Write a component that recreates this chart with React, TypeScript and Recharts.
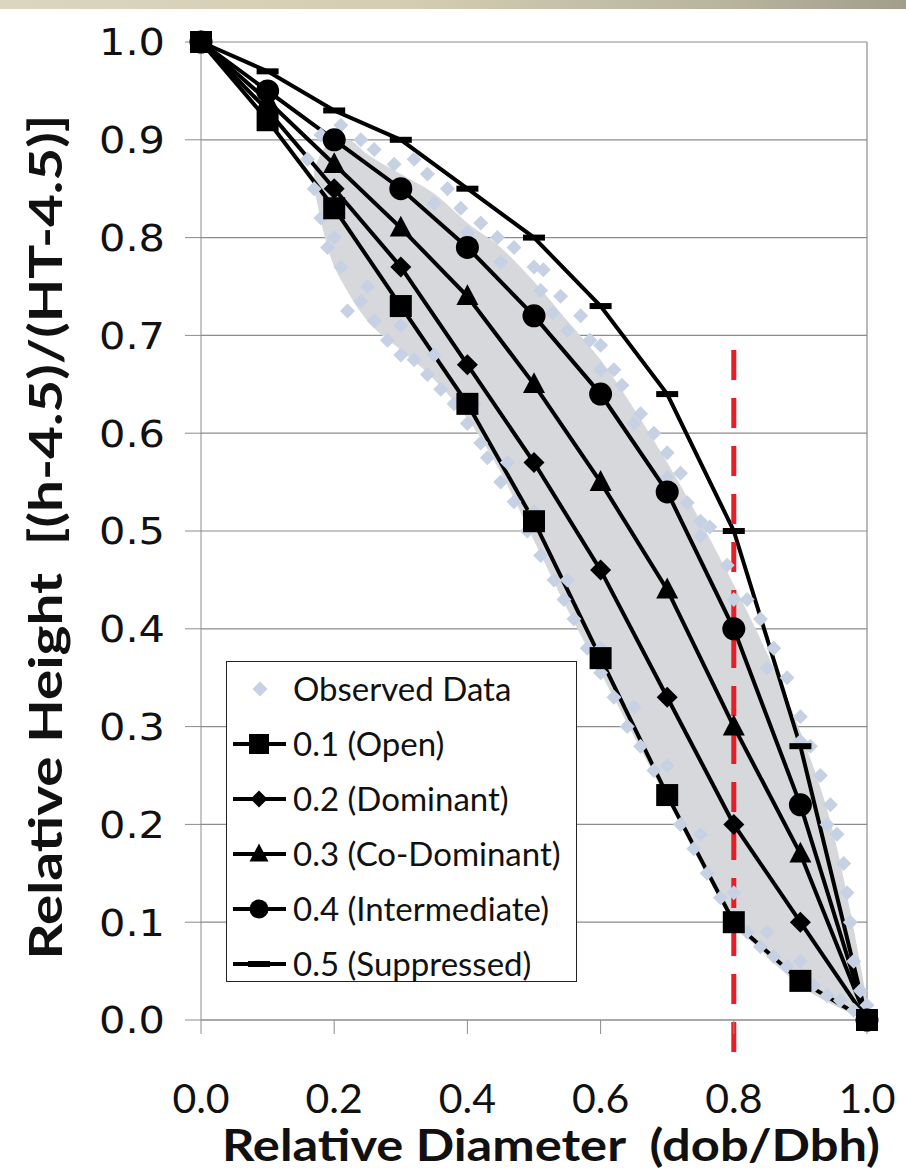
import React from 'react';
import {
  ComposedChart,
  Line,
  Scatter,
  Area,
  XAxis,
  YAxis,
  CartesianGrid,
  ReferenceLine,
  Legend,
} from 'recharts';

// relative diameter positions of the model curves
const diameters = [0, 0.1, 0.2, 0.3, 0.4, 0.5, 0.6, 0.7, 0.8, 0.9, 1.0];
const openHeights = [1.0, 0.92, 0.83, 0.73, 0.63, 0.51, 0.37, 0.23, 0.1, 0.04, 0.0];
const dominantHeights = [1.0, 0.93, 0.85, 0.77, 0.67, 0.57, 0.46, 0.33, 0.2, 0.1, 0.0];
const coDominantHeights = [1.0, 0.94, 0.875, 0.81, 0.74, 0.65, 0.55, 0.44, 0.3, 0.17, 0.0];
const intermediateHeights = [1.0, 0.95, 0.9, 0.85, 0.79, 0.72, 0.64, 0.54, 0.4, 0.22, 0.0];
const suppressedHeights = [1.0, 0.97, 0.93, 0.9, 0.85, 0.8, 0.73, 0.64, 0.5, 0.28, 0.0];

const cloudX = [0.17, 0.19, 0.22, 0.25, 0.3, 0.35, 0.4, 0.45, 0.5, 0.55, 0.6, 0.65, 0.7, 0.75, 0.8, 0.85, 0.9, 0.95, 1.0];
const cloudLow = [0.85, 0.79, 0.745, 0.715, 0.685, 0.655, 0.615, 0.56, 0.49, 0.42, 0.355, 0.29, 0.225, 0.16, 0.1, 0.065, 0.035, 0.015, 0.0];
const cloudHigh = [0.87, 0.895, 0.9, 0.885, 0.865, 0.845, 0.815, 0.79, 0.755, 0.715, 0.675, 0.625, 0.57, 0.51, 0.445, 0.375, 0.295, 0.19, 0.02];

// scattered observations around the cloud edges
const observedX = [
  // upper side
  0.16, 0.18, 0.21, 0.24, 0.26, 0.29, 0.32, 0.34, 0.37, 0.39, 0.42, 0.445, 0.47, 0.5, 0.514, 0.51, 0.528,
  0.54, 0.57, 0.584, 0.6, 0.62, 0.632, 0.66, 0.68, 0.7, 0.72, 0.73, 0.75, 0.764, 0.79, 0.82, 0.84, 0.86,
  0.88, 0.9, 0.915, 0.93, 0.945, 0.955, 0.965, 0.97, 0.975, 0.98, 0.99, 1.0,
  // upper inner row
  0.3, 0.35, 0.4, 0.45, 0.55, 0.6, 0.65, 0.7, 0.75, 0.8, 0.85, 0.9, 0.94,
  // lower side
  0.17, 0.18, 0.19, 0.21, 0.22, 0.24, 0.26, 0.28, 0.3, 0.32, 0.34, 0.36, 0.38, 0.4, 0.42, 0.43, 0.45,
  0.47, 0.49, 0.51, 0.53, 0.545, 0.56, 0.58, 0.6, 0.62, 0.64, 0.66, 0.68, 0.7, 0.72, 0.74, 0.76, 0.78,
  0.8, 0.82, 0.84, 0.86, 0.88, 0.9, 0.92, 0.94, 0.96, 0.98,
  // lower inner row
  0.2, 0.25, 0.3, 0.35, 0.41, 0.46, 0.5, 0.55, 0.6, 0.65, 0.7, 0.75, 0.8, 0.85, 0.9,
];
const observedY = [
  0.88, 0.905, 0.915, 0.9, 0.89, 0.875, 0.88, 0.865, 0.85, 0.83, 0.815, 0.8, 0.79, 0.77, 0.767, 0.746, 0.723,
  0.74, 0.72, 0.695, 0.69, 0.665, 0.649, 0.62, 0.6, 0.58, 0.559, 0.529, 0.51, 0.504, 0.465, 0.43, 0.41, 0.38,
  0.35, 0.31, 0.28, 0.25, 0.22, 0.19, 0.16, 0.13, 0.1, 0.06, 0.03, 0.015,
  0.855, 0.835, 0.805, 0.775, 0.705, 0.665, 0.61, 0.555, 0.495, 0.43, 0.36, 0.285, 0.2,
  0.85, 0.82, 0.79, 0.77, 0.725, 0.735, 0.715, 0.695, 0.68, 0.675, 0.66, 0.645, 0.63, 0.61, 0.59, 0.575, 0.55,
  0.53, 0.5, 0.475, 0.45, 0.43, 0.41, 0.38, 0.355, 0.33, 0.3, 0.28, 0.255, 0.23, 0.2, 0.175, 0.15, 0.125,
  0.105, 0.09, 0.075, 0.065, 0.055, 0.045, 0.035, 0.025, 0.02, 0.01,
  0.8, 0.75, 0.71, 0.68, 0.63, 0.57, 0.52, 0.45, 0.38, 0.32, 0.26, 0.19, 0.13, 0.09, 0.06,
];

const xTicks = [0, 0.2, 0.4, 0.6, 0.8, 1.0];
const yTicks = [0, 0.1, 0.2, 0.3, 0.4, 0.5, 0.6, 0.7, 0.8, 0.9, 1.0];

// red dashed marker at 0.8 relative diameter
const cutoffSegment = [
  { x: 0.8, y: 0.685 },
  { x: 0.8, y: -0.043 },
];

type Marker = 'square' | 'diamond' | 'triangle' | 'circle' | 'dash';

const series: { name: string; heights: number[]; marker: Marker }[] = [
  { name: '0.1 (Open)', heights: openHeights, marker: 'square' },
  { name: '0.2 (Dominant)', heights: dominantHeights, marker: 'diamond' },
  { name: '0.3 (Co-Dominant)', heights: coDominantHeights, marker: 'triangle' },
  { name: '0.4 (Intermediate)', heights: intermediateHeights, marker: 'circle' },
  { name: '0.5 (Suppressed)', heights: suppressedHeights, marker: 'dash' },
];

const cloudData = cloudX.map((x, i) => ({ x, range: [cloudLow[i], cloudHigh[i]] }));
const observedData = observedX.map((x, i) => ({ x, y: observedY[i] }));

const GRID = '#8c8c8c';
const OBS = '#c6d1e4';
const CLOUD = '#d7d8dc';
const FONT = 'Lato, sans-serif';
const TICK_FONT_Y = '"DejaVu Sans", sans-serif';

const drawMarker = (kind: Marker, cx: number, cy: number, s: number, key?: string) => {
  const h = s / 2;
  switch (kind) {
    case 'square':
      return <rect key={key} x={cx - h} y={cy - h} width={s} height={s} fill="#000" />;
    case 'diamond':
      return (
        <polygon
          key={key}
          points={`${cx},${cy - h} ${cx + h},${cy} ${cx},${cy + h} ${cx - h},${cy}`}
          fill="#000"
        />
      );
    case 'triangle':
      return (
        <polygon
          key={key}
          points={`${cx},${cy - h * 1.1} ${cx + h},${cy + h * 0.8} ${cx - h},${cy + h * 0.8}`}
          fill="#000"
        />
      );
    case 'circle':
      return <circle key={key} cx={cx} cy={cy} r={h} fill="#000" />;
    default:
      return <rect key={key} x={cx - h} y={cy - 3} width={s} height={6} fill="#000" />;
  }
};

const ObservedShape = (props: any) => {
  const { cx, cy } = props;
  const h = 7.5;
  return (
    <polygon
      points={`${cx},${cy - h} ${cx + h},${cy} ${cx},${cy + h} ${cx - h},${cy}`}
      fill={OBS}
    />
  );
};

const XTick = (props: any) => {
  const { x, y, payload } = props;
  return (
    <text x={x} y={y} dy="0.72em" textAnchor="middle" fontFamily={FONT} fontSize={41} fill="#111">
      {Number(payload.value).toFixed(1)}
    </text>
  );
};

const YTick = (props: any) => {
  const { x, y, payload } = props;
  return (
    <text
      x={x}
      y={y}
      dy="0.36em"
      textAnchor="end"
      fontFamily={TICK_FONT_Y}
      fontSize={37}
      textLength={66}
      lengthAdjust="spacingAndGlyphs"
      fill="#111"
    >
      {Number(payload.value).toFixed(1)}
    </text>
  );
};

const LegendBox = () => (
  <div
    style={{
      width: 351,
      height: 321,
      boxSizing: 'border-box',
      border: '1.5px solid #222',
      background: '#fff',
      position: 'relative',
    }}
  >
    <svg width={351} height={321} style={{ position: 'absolute', left: 0, top: 0 }}>
      <polygon points="33,19.5 40.5,27 33,34.5 25.5,27" fill={OBS} />
      <text x={66} y={27} dy="0.36em" fontFamily={FONT} fontSize={33} fill="#111">
        Observed Data
      </text>
      {series.map((s, i) => {
        const cy = 82 + i * 55;
        const size = s.marker === 'square' ? 20 : s.marker === 'dash' ? 22 : s.marker === 'diamond' ? 17 : 19;
        return (
          <g key={s.name}>
            <line x1={6} x2={59} y1={cy} y2={cy} stroke="#000" strokeWidth={4} />
            {drawMarker(s.marker, 32, cy, size)}
            <text x={66} y={cy} dy="0.36em" fontFamily={FONT} fontSize={33} fill="#111">
              {s.name}
            </text>
          </g>
        );
      })}
    </svg>
  </div>
);

export default function App() {
  return (
    <div style={{ position: 'absolute', left: 0, top: 0, width: 906, height: 1174, background: '#fff' }}>
      <div
        style={{
          position: 'absolute',
          left: 0,
          top: 0,
          width: 906,
          height: 9,
          background: 'linear-gradient(to right, #ddd6bf 0%, #d4cdb3 45%, #b9b49e 80%, #a29e8a 100%)',
        }}
      />
      <ComposedChart
        width={906}
        height={1174}
        data={cloudData}
        margin={{ top: 42, right: 39, left: 0, bottom: 0 }}
      >
        <CartesianGrid vertical={false} stroke={GRID} strokeWidth={1.2} />
        <XAxis
          dataKey="x"
          type="number"
          domain={[0, 1]}
          ticks={xTicks}
          height={154}
          tickSize={14}
          tickMargin={49}
          stroke={GRID}
          tick={<XTick />}
          label={{
            content: () => (
              <text
                x={551}
                y={1161}
                textAnchor="middle"
                fontFamily={FONT}
                fontWeight={700}
                fontSize={43}
                textLength={658}
                lengthAdjust="spacingAndGlyphs"
                fill="#111"
              >
                {'Relative Diameter\u00a0 (dob/Dbh)'}
              </text>
            ),
          }}
        />
        <YAxis
          type="number"
          domain={[0, 1]}
          ticks={yTicks}
          width={201}
          tickSize={16}
          tickMargin={20}
          stroke={GRID}
          tick={<YTick />}
          label={{
            content: () => (
              <text
                x={62}
                y={537}
                transform="rotate(-90 62 537)"
                textAnchor="middle"
                fontFamily={FONT}
                fontWeight={700}
                fontSize={46}
                textLength={845}
                lengthAdjust="spacingAndGlyphs"
                fill="#111"
              >
                {'Relative Height\u00a0 [(h-4.5)/(HT-4.5)]'}
              </text>
            ),
          }}
        />
        <ReferenceLine x={1} stroke={GRID} strokeWidth={1.2} />
        <Area
          dataKey="range"
          stroke="none"
          fill={CLOUD}
          fillOpacity={1}
          type="monotone"
          legendType="none"
          isAnimationActive={false}
        />
        <Scatter
          name="Observed Data"
          data={observedData}
          dataKey="y"
          shape={<ObservedShape />}
          isAnimationActive={false}
        />
        {series.map((s) => (
          <Line
            key={s.name}
            name={s.name}
            data={diameters.map((x, i) => ({ x, y: s.heights[i] }))}
            dataKey="y"
            type="linear"
            stroke="#000"
            strokeWidth={4}
            dot={(p: any) =>
              drawMarker(
                s.marker,
                p.cx,
                p.cy,
                s.marker === 'diamond' ? 21 : s.marker === 'circle' ? 23 : 22,
                `${s.name}-${p.index}`
              )
            }
            activeDot={false}
            isAnimationActive={false}
          />
        ))}
        <ReferenceLine
          segment={cutoffSegment}
          ifOverflow="visible"
          stroke="#e61e25"
          strokeWidth={5}
          strokeDasharray="30 18"
        />
        <Legend
          layout="vertical"
          align="center"
          verticalAlign="middle"
          content={<LegendBox />}
          wrapperStyle={{ position: 'absolute', left: 226, top: 661, width: 351, height: 321 }}
        />
      </ComposedChart>
    </div>
  );
}
